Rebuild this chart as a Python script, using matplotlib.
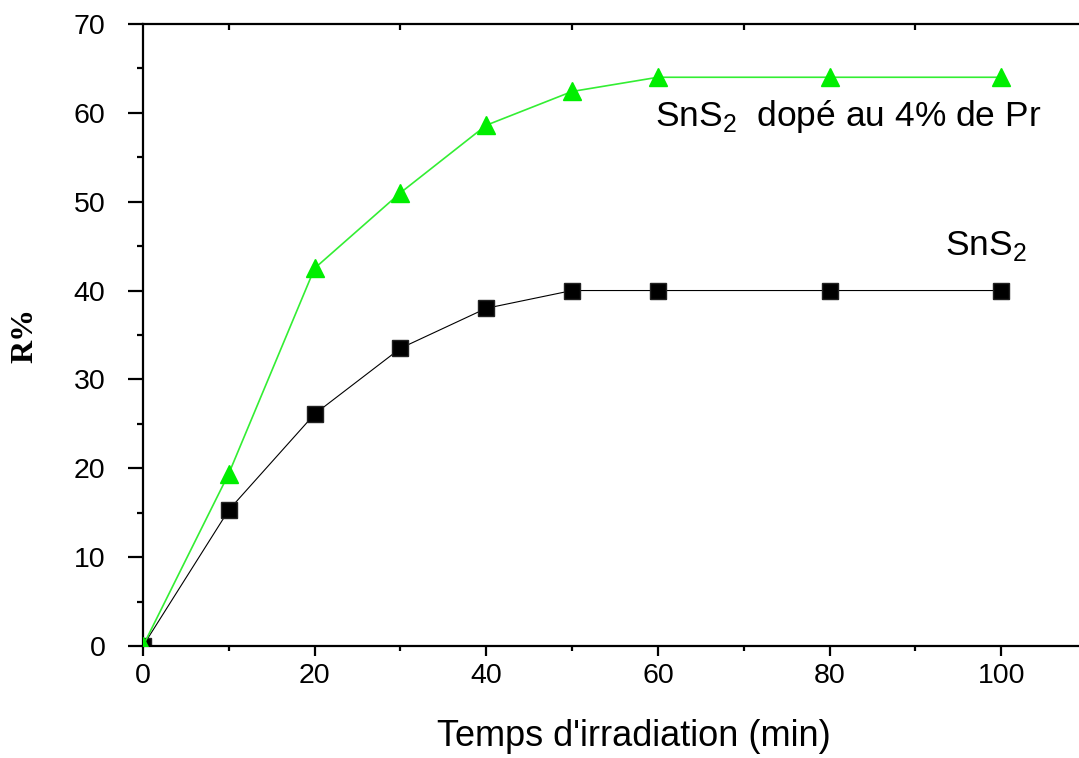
import matplotlib
matplotlib.use("Agg")
import matplotlib.pyplot as plt
from matplotlib.ticker import MultipleLocator

plt.rcParams['font.family'] = ['Liberation Sans', 'DejaVu Sans']
plt.rcParams['mathtext.fontset'] = 'custom'
plt.rcParams['mathtext.rm'] = 'Liberation Sans'

# data
temps = [0, 10, 20, 30, 40, 50, 60, 80, 100]
r_sns2 = [0, 15.3, 26.1, 33.5, 38.0, 40.0, 40.0, 40.0, 40.0]
r_sns2_pr = [0, 19.4, 42.5, 51.0, 58.6, 62.4, 64.0, 64.0, 64.0]

fig = plt.figure(figsize=(10.79, 7.58), dpi=100)
ax = fig.add_axes([0.1325, 0.1478, 0.8749, 0.8206])

ax.plot(temps, r_sns2, color='black', lw=0.8, marker='s', ms=11,
        mfc='black', mec='#222222', zorder=2)
ax.plot(temps, r_sns2_pr, color='#33ee33', lw=1.2, marker='^', ms=13,
        mfc='#00ee00', mec='#00ee00', zorder=3)

ax.set_xlim(0, 110)
ax.set_ylim(0, 70)

ax.xaxis.set_major_locator(MultipleLocator(20))
ax.xaxis.set_minor_locator(MultipleLocator(10))
ax.yaxis.set_major_locator(MultipleLocator(10))
ax.yaxis.set_minor_locator(MultipleLocator(5))

for s in ax.spines.values():
    s.set_linewidth(1.6)

ax.tick_params(axis='x', which='major', direction='out', length=7.5, width=1.6,
               labelsize=20.5, pad=5)
ax.tick_params(axis='x', which='minor', direction='out', length=3.5, width=1.6)
ax.tick_params(axis='y', which='major', direction='out', length=11, width=1.6,
               labelsize=20.5, pad=16)
ax.tick_params(axis='y', which='minor', direction='out', length=4.5, width=1.6)

# short inward ticks on the top spine
top = ax.secondary_xaxis('top')
top.set_xticks([10, 30, 50, 70, 90])
top.tick_params(direction='in', length=4, width=1.6, labeltop=False)
top.spines['top'].set_visible(False)

ax.set_xlabel("Temps d'irradiation (min)", fontsize=26)
ax.xaxis.set_label_coords(0.52, -0.118)
ax.set_ylabel("R%", fontsize=23, family='Liberation Serif', fontweight='bold')
ax.yaxis.set_label_coords(-0.11, 0.5)

ax.text(59.7, 58.5, r"SnS$_\mathregular{2}$  dopé au 4% de Pr", fontsize=25.5)
ax.text(93.5, 44.0, r"SnS$_\mathregular{2}$", fontsize=25.5)

fig.savefig("out.png", dpi=100)
